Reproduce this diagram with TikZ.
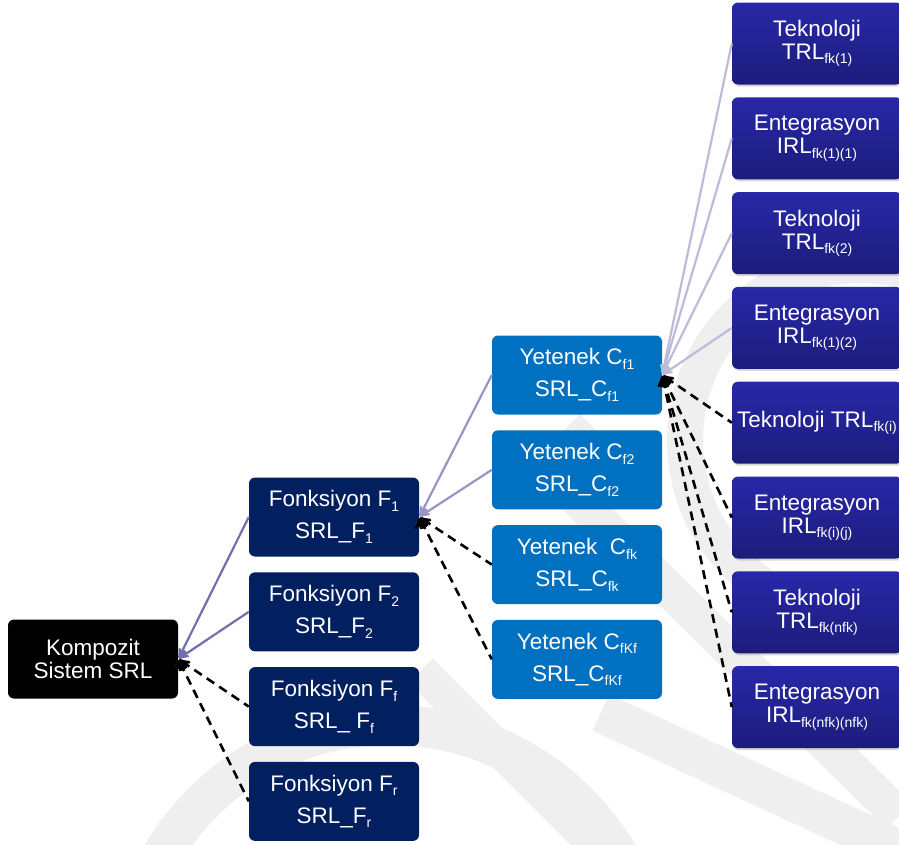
\documentclass[tikz,border=0pt]{standalone}
\usepackage{fontspec}
\setmainfont{Liberation Sans}
\usetikzlibrary{arrows,shadows}

\definecolor{navy}{RGB}{2,31,96}
\definecolor{capblue}{RGB}{0,112,192}
\definecolor{techtop}{RGB}{40,40,168}
\definecolor{techbot}{RGB}{28,28,124}
\definecolor{lavdark}{RGB}{112,112,176}
\definecolor{lavmid}{RGB}{150,150,198}
\definecolor{lavlight}{RGB}{188,188,216}
\definecolor{wmark}{RGB}{239,239,239}

\newcommand{\idx}[1]{\raisebox{-4.5pt}{\fontsize{14}{14}\selectfont #1}}

\tikzset{
  box/.style={rounded corners=6pt, text=white, align=center, inner sep=0pt,
    minimum width=170pt, minimum height=79pt, font=\fontsize{22.5}{32}\selectfont},
  rootbox/.style={box, fill=black, font=\fontsize{22.5}{23}\selectfont},
  funcbox/.style={box, fill=navy},
  capbox/.style={box, fill=capblue},
  techbox/.style={box, top color=techtop, bottom color=techbot, minimum height=82pt,
    font=\fontsize{22.5}{23}\selectfont,
    drop shadow={opacity=0.3, shadow xshift=1pt, shadow yshift=-2pt}},
  solidlink/.style={line width=2.2pt},
  dashlink/.style={draw=black, line width=2.6pt, dash pattern=on 9pt off 6pt},
}

\begin{document}
\begin{tikzpicture}[x=1pt,y=-1pt,>=stealth',shorten <=1pt,node distance=94.8pt]
\clip (0,0) rectangle (899,844);
\fill[white] (0,0) rectangle (899,844);

% faint logo in the back
\draw[wmark,line width=40pt] (390,990) circle (265pt);
\draw[wmark,line width=36pt] (860,440) circle (175pt);
\draw[wmark,line width=36pt] (560,482) -- (899,816);
\draw[wmark,line width=34pt] (420,670) -- (600,850);
\draw[wmark,line width=40pt] (600,712) -- (899,850);
\fill[wmark] (580,414) -- (640,474) -- (520,474) -- cycle;

% root
\node[rootbox] (sys) at (93,659) {Kompozit\\Sistem SRL};

% functions
\node[funcbox] (f1) at (334,517) {Fonksiyon F\idx{1}\\SRL\_F\idx{1}};
\node[funcbox] (f2) [below of=f1] {Fonksiyon F\idx{2}\\SRL\_F\idx{2}};
\node[funcbox] (ff) [below of=f2] {Fonksiyon F\idx{f}\\SRL\_ F\idx{f}};
\node[funcbox] (fr) [below of=ff] {Fonksiyon F\idx{r}\\SRL\_F\idx{r}};

% capabilities
\node[capbox] (c1) at (577,375) {Yetenek C\idx{f1}\\SRL\_C\idx{f1}};
\node[capbox] (c2) [below of=c1] {Yetenek C\idx{f2}\\SRL\_C\idx{f2}};
\node[capbox] (ck) [below of=c2] {Yetenek \ C\idx{fk}\\SRL\_C\idx{fk}};
\node[capbox] (ckf) [below of=ck] {Yetenek C\idx{fKf}\\SRL\_C\idx{fKf}};

% technology / integration
\node[techbox] (t1) at (817,43.5) {Teknoloji\\TRL\idx{fk(1)}};
\node[techbox] (e11) [below of=t1] {Entegrasyon\\IRL\idx{fk(1)(1)}};
\node[techbox] (t2) [below of=e11] {Teknoloji\\TRL\idx{fk(2)}};
\node[techbox] (e12) [below of=t2] {Entegrasyon\\IRL\idx{fk(1)(2)}};
\node[techbox] (ti) [below of=e12] {Teknoloji TRL\idx{fk(i)}};
\node[techbox] (eij) [below of=ti] {Entegrasyon\\IRL\idx{fk(i)(j)}};
\node[techbox] (tn) [below of=eij] {Teknoloji\\TRL\idx{fk(nfk)}};
\node[techbox] (enn) [below of=tn] {Entegrasyon\\IRL\idx{fk(nfk)(nfk)}};

\path[<-,solidlink,draw=lavdark] (sys.east) edge (f1.west)
                                            edge (f2.west);
\path[<-,dashlink] (sys.east) edge (ff.west)
                              edge (fr.west);

\path[<-,solidlink,draw=lavmid] (f1.east) edge (c1.west)
                                          edge (c2.west);
\path[<-,dashlink] (f1.east) edge (ck.west)
                             edge (ckf.west);

\path[<-,solidlink,draw=lavlight] (c1.east) edge (t1.west)
                                            edge (e11.west)
                                            edge (t2.west)
                                            edge (e12.west);
\path[<-,dashlink] (c1.east) edge (ti.west)
                             edge (eij.west)
                             edge (tn.west)
                             edge (enn.west);
\end{tikzpicture}
\end{document}
